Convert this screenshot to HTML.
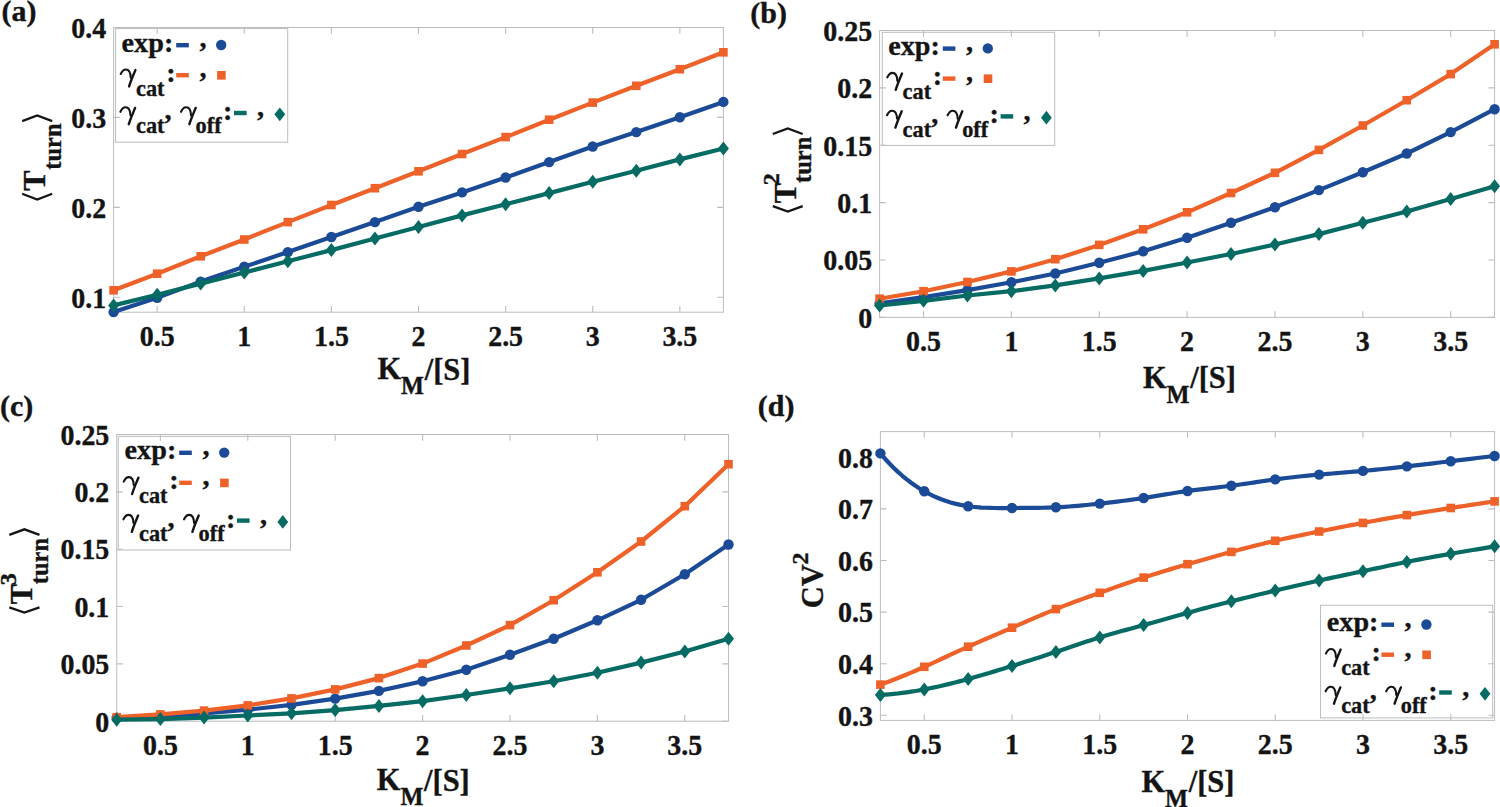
<!DOCTYPE html>
<html><head><meta charset="utf-8"><title>Figure</title>
<style>
html,body{margin:0;padding:0;background:#fff;}
body{width:1500px;height:807px;overflow:hidden;}
svg{display:block;font-family:"Liberation Serif",serif;}
text{stroke:#141414;stroke-width:0.35px;}
</style></head>
<body>
<svg width="1500" height="807" viewBox="0 0 1500 807">
<rect width="1500" height="807" fill="#fff"/>
<rect x="113.6" y="27.5" width="609.8" height="284.7" fill="none" stroke="#BBBDBF" stroke-width="1"/>
<path d="M157.16 312.2V306M157.16 27.5V33.7M244.27 312.2V306M244.27 27.5V33.7M331.39 312.2V306M331.39 27.5V33.7M418.5 312.2V306M418.5 27.5V33.7M505.61 312.2V306M505.61 27.5V33.7M592.73 312.2V306M592.73 27.5V33.7M679.84 312.2V306M679.84 27.5V33.7M113.6 297.3H119.8M723.4 297.3H717.2M113.6 207.4H119.8M723.4 207.4H717.2M113.6 117.4H119.8M723.4 117.4H717.2M113.6 27.5H119.8M723.4 27.5H717.2" stroke="#BBBDBF" stroke-width="1.1" fill="none"/>
<rect x="879.6" y="30.5" width="615" height="286.9" fill="none" stroke="#BBBDBF" stroke-width="1"/>
<path d="M923.53 317.4V311.2M923.53 30.5V36.7M1011.39 317.4V311.2M1011.39 30.5V36.7M1099.24 317.4V311.2M1099.24 30.5V36.7M1187.1 317.4V311.2M1187.1 30.5V36.7M1274.96 317.4V311.2M1274.96 30.5V36.7M1362.81 317.4V311.2M1362.81 30.5V36.7M1450.67 317.4V311.2M1450.67 30.5V36.7M879.6 317.4H885.8M1494.6 317.4H1488.4M879.6 260.02H885.8M1494.6 260.02H1488.4M879.6 202.64H885.8M1494.6 202.64H1488.4M879.6 145.26H885.8M1494.6 145.26H1488.4M879.6 87.88H885.8M1494.6 87.88H1488.4M879.6 30.5H885.8M1494.6 30.5H1488.4" stroke="#BBBDBF" stroke-width="1.1" fill="none"/>
<rect x="116.7" y="434.5" width="611.8" height="286.7" fill="none" stroke="#BBBDBF" stroke-width="1"/>
<path d="M160.4 721.2V715M160.4 434.5V440.7M247.8 721.2V715M247.8 434.5V440.7M335.2 721.2V715M335.2 434.5V440.7M422.6 721.2V715M422.6 434.5V440.7M510 721.2V715M510 434.5V440.7M597.4 721.2V715M597.4 434.5V440.7M684.8 721.2V715M684.8 434.5V440.7M116.7 721.2H122.9M728.5 721.2H722.3M116.7 663.86H122.9M728.5 663.86H722.3M116.7 606.52H122.9M728.5 606.52H722.3M116.7 549.18H122.9M728.5 549.18H722.3M116.7 491.84H122.9M728.5 491.84H722.3M116.7 434.5H122.9M728.5 434.5H722.3" stroke="#BBBDBF" stroke-width="1.1" fill="none"/>
<rect x="880.4" y="431.6" width="614.2" height="288.8" fill="none" stroke="#BBBDBF" stroke-width="1"/>
<path d="M924.27 720.4V714.2M924.27 431.6V437.8M1012.01 720.4V714.2M1012.01 431.6V437.8M1099.76 720.4V714.2M1099.76 431.6V437.8M1187.5 720.4V714.2M1187.5 431.6V437.8M1275.24 720.4V714.2M1275.24 431.6V437.8M1362.99 720.4V714.2M1362.99 431.6V437.8M1450.73 720.4V714.2M1450.73 431.6V437.8M880.4 715.3H886.6M1494.6 715.3H1488.4M880.4 663.7H886.6M1494.6 663.7H1488.4M880.4 612.1H886.6M1494.6 612.1H1488.4M880.4 560.5H886.6M1494.6 560.5H1488.4M880.4 508.9H886.6M1494.6 508.9H1488.4M880.4 457.3H886.6M1494.6 457.3H1488.4" stroke="#BBBDBF" stroke-width="1.1" fill="none"/>
<path d="M113.6 312.1 L157.16 297.7 L200.71 281.6 L244.27 266.8 L287.83 252.1 L331.39 237 L374.94 222.1 L418.5 206.8 L462.06 192.4 L505.61 177.5 L549.17 162.1 L592.73 146.5 L636.29 132.1 L679.84 117.3 L723.4 101.9" stroke="#1B4A96" stroke-width="4.2" fill="none" stroke-linejoin="round"/>
<circle cx="113.6" cy="312.1" r="5.2" fill="#1B4A96"/>
<circle cx="157.16" cy="297.7" r="5.2" fill="#1B4A96"/>
<circle cx="200.71" cy="281.6" r="5.2" fill="#1B4A96"/>
<circle cx="244.27" cy="266.8" r="5.2" fill="#1B4A96"/>
<circle cx="287.83" cy="252.1" r="5.2" fill="#1B4A96"/>
<circle cx="331.39" cy="237" r="5.2" fill="#1B4A96"/>
<circle cx="374.94" cy="222.1" r="5.2" fill="#1B4A96"/>
<circle cx="418.5" cy="206.8" r="5.2" fill="#1B4A96"/>
<circle cx="462.06" cy="192.4" r="5.2" fill="#1B4A96"/>
<circle cx="505.61" cy="177.5" r="5.2" fill="#1B4A96"/>
<circle cx="549.17" cy="162.1" r="5.2" fill="#1B4A96"/>
<circle cx="592.73" cy="146.5" r="5.2" fill="#1B4A96"/>
<circle cx="636.29" cy="132.1" r="5.2" fill="#1B4A96"/>
<circle cx="679.84" cy="117.3" r="5.2" fill="#1B4A96"/>
<circle cx="723.4" cy="101.9" r="5.2" fill="#1B4A96"/>
<path d="M113.6 290.3 L157.16 273.7 L200.71 256.3 L244.27 239.5 L287.83 222.1 L331.39 205 L374.94 188.2 L418.5 171.3 L462.06 154 L505.61 137.1 L549.17 119.7 L592.73 102.6 L636.29 85.8 L679.84 69.2 L723.4 52.3" stroke="#EE6129" stroke-width="4.2" fill="none" stroke-linejoin="round"/>
<rect x="109.3" y="286" width="8.6" height="8.6" fill="#EE6129"/>
<rect x="152.86" y="269.4" width="8.6" height="8.6" fill="#EE6129"/>
<rect x="196.41" y="252" width="8.6" height="8.6" fill="#EE6129"/>
<rect x="239.97" y="235.2" width="8.6" height="8.6" fill="#EE6129"/>
<rect x="283.53" y="217.8" width="8.6" height="8.6" fill="#EE6129"/>
<rect x="327.09" y="200.7" width="8.6" height="8.6" fill="#EE6129"/>
<rect x="370.64" y="183.9" width="8.6" height="8.6" fill="#EE6129"/>
<rect x="414.2" y="167" width="8.6" height="8.6" fill="#EE6129"/>
<rect x="457.76" y="149.7" width="8.6" height="8.6" fill="#EE6129"/>
<rect x="501.31" y="132.8" width="8.6" height="8.6" fill="#EE6129"/>
<rect x="544.87" y="115.4" width="8.6" height="8.6" fill="#EE6129"/>
<rect x="588.43" y="98.3" width="8.6" height="8.6" fill="#EE6129"/>
<rect x="631.99" y="81.5" width="8.6" height="8.6" fill="#EE6129"/>
<rect x="675.54" y="64.9" width="8.6" height="8.6" fill="#EE6129"/>
<rect x="719.1" y="48" width="8.6" height="8.6" fill="#EE6129"/>
<path d="M113.6 305.4 L157.16 294.8 L200.71 283.6 L244.27 272.5 L287.83 261.3 L331.39 250.1 L374.94 238.5 L418.5 227 L462.06 215.4 L505.61 204.3 L549.17 193.1 L592.73 181.7 L636.29 170.8 L679.84 159.4 L723.4 148.5" stroke="#066B63" stroke-width="4.2" fill="none" stroke-linejoin="round"/>
<path d="M113.6 298.4L119.1 305.4L113.6 312.4L108.1 305.4Z" fill="#066B63"/>
<path d="M157.16 287.8L162.66 294.8L157.16 301.8L151.66 294.8Z" fill="#066B63"/>
<path d="M200.71 276.6L206.21 283.6L200.71 290.6L195.21 283.6Z" fill="#066B63"/>
<path d="M244.27 265.5L249.77 272.5L244.27 279.5L238.77 272.5Z" fill="#066B63"/>
<path d="M287.83 254.3L293.33 261.3L287.83 268.3L282.33 261.3Z" fill="#066B63"/>
<path d="M331.39 243.1L336.89 250.1L331.39 257.1L325.89 250.1Z" fill="#066B63"/>
<path d="M374.94 231.5L380.44 238.5L374.94 245.5L369.44 238.5Z" fill="#066B63"/>
<path d="M418.5 220L424 227L418.5 234L413 227Z" fill="#066B63"/>
<path d="M462.06 208.4L467.56 215.4L462.06 222.4L456.56 215.4Z" fill="#066B63"/>
<path d="M505.61 197.3L511.11 204.3L505.61 211.3L500.11 204.3Z" fill="#066B63"/>
<path d="M549.17 186.1L554.67 193.1L549.17 200.1L543.67 193.1Z" fill="#066B63"/>
<path d="M592.73 174.7L598.23 181.7L592.73 188.7L587.23 181.7Z" fill="#066B63"/>
<path d="M636.29 163.8L641.79 170.8L636.29 177.8L630.79 170.8Z" fill="#066B63"/>
<path d="M679.84 152.4L685.34 159.4L679.84 166.4L674.34 159.4Z" fill="#066B63"/>
<path d="M723.4 141.5L728.9 148.5L723.4 155.5L717.9 148.5Z" fill="#066B63"/>
<text transform="translate(157.16 346) scale(0.98 1.05)" font-size="28.5" font-weight="bold" text-anchor="middle" fill="#141414">0.5</text>
<text transform="translate(244.27 346) scale(0.98 1.05)" font-size="28.5" font-weight="bold" text-anchor="middle" fill="#141414">1</text>
<text transform="translate(331.39 346) scale(0.98 1.05)" font-size="28.5" font-weight="bold" text-anchor="middle" fill="#141414">1.5</text>
<text transform="translate(418.5 346) scale(0.98 1.05)" font-size="28.5" font-weight="bold" text-anchor="middle" fill="#141414">2</text>
<text transform="translate(505.61 346) scale(0.98 1.05)" font-size="28.5" font-weight="bold" text-anchor="middle" fill="#141414">2.5</text>
<text transform="translate(592.73 346) scale(0.98 1.05)" font-size="28.5" font-weight="bold" text-anchor="middle" fill="#141414">3</text>
<text transform="translate(679.84 346) scale(0.98 1.05)" font-size="28.5" font-weight="bold" text-anchor="middle" fill="#141414">3.5</text>
<text transform="translate(106.2 307.6) scale(0.98 1.05)" font-size="28.5" font-weight="bold" text-anchor="end" fill="#141414">0.1</text>
<text transform="translate(106.2 217.7) scale(0.98 1.05)" font-size="28.5" font-weight="bold" text-anchor="end" fill="#141414">0.2</text>
<text transform="translate(106.2 127.7) scale(0.98 1.05)" font-size="28.5" font-weight="bold" text-anchor="end" fill="#141414">0.3</text>
<text transform="translate(106.2 37.8) scale(0.98 1.05)" font-size="28.5" font-weight="bold" text-anchor="end" fill="#141414">0.4</text>
<path d="M879.6 303.4 L923.53 297.2 L967.46 290.1 L1011.39 282.2 L1055.31 273.5 L1099.24 262.8 L1143.17 251.3 L1187.1 237.8 L1231.03 222.8 L1274.96 207.3 L1318.89 190.1 L1362.81 172.2 L1406.74 153.5 L1450.67 132.1 L1494.6 109.2" stroke="#1B4A96" stroke-width="4.2" fill="none" stroke-linejoin="round"/>
<circle cx="879.6" cy="303.4" r="5.2" fill="#1B4A96"/>
<circle cx="923.53" cy="297.2" r="5.2" fill="#1B4A96"/>
<circle cx="967.46" cy="290.1" r="5.2" fill="#1B4A96"/>
<circle cx="1011.39" cy="282.2" r="5.2" fill="#1B4A96"/>
<circle cx="1055.31" cy="273.5" r="5.2" fill="#1B4A96"/>
<circle cx="1099.24" cy="262.8" r="5.2" fill="#1B4A96"/>
<circle cx="1143.17" cy="251.3" r="5.2" fill="#1B4A96"/>
<circle cx="1187.1" cy="237.8" r="5.2" fill="#1B4A96"/>
<circle cx="1231.03" cy="222.8" r="5.2" fill="#1B4A96"/>
<circle cx="1274.96" cy="207.3" r="5.2" fill="#1B4A96"/>
<circle cx="1318.89" cy="190.1" r="5.2" fill="#1B4A96"/>
<circle cx="1362.81" cy="172.2" r="5.2" fill="#1B4A96"/>
<circle cx="1406.74" cy="153.5" r="5.2" fill="#1B4A96"/>
<circle cx="1450.67" cy="132.1" r="5.2" fill="#1B4A96"/>
<circle cx="1494.6" cy="109.2" r="5.2" fill="#1B4A96"/>
<path d="M879.6 298.7 L923.53 291.2 L967.46 282 L1011.39 271.4 L1055.31 259.2 L1099.24 244.9 L1143.17 229.3 L1187.1 212.3 L1231.03 193 L1274.96 172.8 L1318.89 149.9 L1362.81 125.5 L1406.74 100.2 L1450.67 74.1 L1494.6 44.3" stroke="#EE6129" stroke-width="4.2" fill="none" stroke-linejoin="round"/>
<rect x="875.3" y="294.4" width="8.6" height="8.6" fill="#EE6129"/>
<rect x="919.23" y="286.9" width="8.6" height="8.6" fill="#EE6129"/>
<rect x="963.16" y="277.7" width="8.6" height="8.6" fill="#EE6129"/>
<rect x="1007.09" y="267.1" width="8.6" height="8.6" fill="#EE6129"/>
<rect x="1051.01" y="254.9" width="8.6" height="8.6" fill="#EE6129"/>
<rect x="1094.94" y="240.6" width="8.6" height="8.6" fill="#EE6129"/>
<rect x="1138.87" y="225" width="8.6" height="8.6" fill="#EE6129"/>
<rect x="1182.8" y="208" width="8.6" height="8.6" fill="#EE6129"/>
<rect x="1226.73" y="188.7" width="8.6" height="8.6" fill="#EE6129"/>
<rect x="1270.66" y="168.5" width="8.6" height="8.6" fill="#EE6129"/>
<rect x="1314.59" y="145.6" width="8.6" height="8.6" fill="#EE6129"/>
<rect x="1358.51" y="121.2" width="8.6" height="8.6" fill="#EE6129"/>
<rect x="1402.44" y="95.9" width="8.6" height="8.6" fill="#EE6129"/>
<rect x="1446.37" y="69.8" width="8.6" height="8.6" fill="#EE6129"/>
<rect x="1490.3" y="40" width="8.6" height="8.6" fill="#EE6129"/>
<path d="M879.6 305.5 L923.53 300.8 L967.46 295.5 L1011.39 291.2 L1055.31 285.4 L1099.24 278.4 L1143.17 270.9 L1187.1 262.5 L1231.03 254 L1274.96 244.5 L1318.89 234.1 L1362.81 222.8 L1406.74 211.5 L1450.67 199 L1494.6 186.2" stroke="#066B63" stroke-width="4.2" fill="none" stroke-linejoin="round"/>
<path d="M879.6 298.5L885.1 305.5L879.6 312.5L874.1 305.5Z" fill="#066B63"/>
<path d="M923.53 293.8L929.03 300.8L923.53 307.8L918.03 300.8Z" fill="#066B63"/>
<path d="M967.46 288.5L972.96 295.5L967.46 302.5L961.96 295.5Z" fill="#066B63"/>
<path d="M1011.39 284.2L1016.89 291.2L1011.39 298.2L1005.89 291.2Z" fill="#066B63"/>
<path d="M1055.31 278.4L1060.81 285.4L1055.31 292.4L1049.81 285.4Z" fill="#066B63"/>
<path d="M1099.24 271.4L1104.74 278.4L1099.24 285.4L1093.74 278.4Z" fill="#066B63"/>
<path d="M1143.17 263.9L1148.67 270.9L1143.17 277.9L1137.67 270.9Z" fill="#066B63"/>
<path d="M1187.1 255.5L1192.6 262.5L1187.1 269.5L1181.6 262.5Z" fill="#066B63"/>
<path d="M1231.03 247L1236.53 254L1231.03 261L1225.53 254Z" fill="#066B63"/>
<path d="M1274.96 237.5L1280.46 244.5L1274.96 251.5L1269.46 244.5Z" fill="#066B63"/>
<path d="M1318.89 227.1L1324.39 234.1L1318.89 241.1L1313.39 234.1Z" fill="#066B63"/>
<path d="M1362.81 215.8L1368.31 222.8L1362.81 229.8L1357.31 222.8Z" fill="#066B63"/>
<path d="M1406.74 204.5L1412.24 211.5L1406.74 218.5L1401.24 211.5Z" fill="#066B63"/>
<path d="M1450.67 192L1456.17 199L1450.67 206L1445.17 199Z" fill="#066B63"/>
<path d="M1494.6 179.2L1500.1 186.2L1494.6 193.2L1489.1 186.2Z" fill="#066B63"/>
<text transform="translate(923.53 351.2) scale(0.98 1.05)" font-size="28.5" font-weight="bold" text-anchor="middle" fill="#141414">0.5</text>
<text transform="translate(1011.39 351.2) scale(0.98 1.05)" font-size="28.5" font-weight="bold" text-anchor="middle" fill="#141414">1</text>
<text transform="translate(1099.24 351.2) scale(0.98 1.05)" font-size="28.5" font-weight="bold" text-anchor="middle" fill="#141414">1.5</text>
<text transform="translate(1187.1 351.2) scale(0.98 1.05)" font-size="28.5" font-weight="bold" text-anchor="middle" fill="#141414">2</text>
<text transform="translate(1274.96 351.2) scale(0.98 1.05)" font-size="28.5" font-weight="bold" text-anchor="middle" fill="#141414">2.5</text>
<text transform="translate(1362.81 351.2) scale(0.98 1.05)" font-size="28.5" font-weight="bold" text-anchor="middle" fill="#141414">3</text>
<text transform="translate(1450.67 351.2) scale(0.98 1.05)" font-size="28.5" font-weight="bold" text-anchor="middle" fill="#141414">3.5</text>
<text transform="translate(872.2 327.7) scale(0.98 1.05)" font-size="28.5" font-weight="bold" text-anchor="end" fill="#141414">0</text>
<text transform="translate(872.2 270.32) scale(0.98 1.05)" font-size="28.5" font-weight="bold" text-anchor="end" fill="#141414">0.05</text>
<text transform="translate(872.2 212.94) scale(0.98 1.05)" font-size="28.5" font-weight="bold" text-anchor="end" fill="#141414">0.1</text>
<text transform="translate(872.2 155.56) scale(0.98 1.05)" font-size="28.5" font-weight="bold" text-anchor="end" fill="#141414">0.15</text>
<text transform="translate(872.2 98.18) scale(0.98 1.05)" font-size="28.5" font-weight="bold" text-anchor="end" fill="#141414">0.2</text>
<text transform="translate(872.2 40.8) scale(0.98 1.05)" font-size="28.5" font-weight="bold" text-anchor="end" fill="#141414">0.25</text>
<path d="M116.7 717.6 L160.4 716.1 L204.1 713.3 L247.8 709.7 L291.5 704.8 L335.2 698.6 L378.9 690.9 L422.6 681.2 L466.3 669.7 L510 654.8 L553.7 638.8 L597.4 620.3 L641.1 599.8 L684.8 574.2 L728.5 544.5" stroke="#1B4A96" stroke-width="4.2" fill="none" stroke-linejoin="round"/>
<circle cx="116.7" cy="717.6" r="5.2" fill="#1B4A96"/>
<circle cx="160.4" cy="716.1" r="5.2" fill="#1B4A96"/>
<circle cx="204.1" cy="713.3" r="5.2" fill="#1B4A96"/>
<circle cx="247.8" cy="709.7" r="5.2" fill="#1B4A96"/>
<circle cx="291.5" cy="704.8" r="5.2" fill="#1B4A96"/>
<circle cx="335.2" cy="698.6" r="5.2" fill="#1B4A96"/>
<circle cx="378.9" cy="690.9" r="5.2" fill="#1B4A96"/>
<circle cx="422.6" cy="681.2" r="5.2" fill="#1B4A96"/>
<circle cx="466.3" cy="669.7" r="5.2" fill="#1B4A96"/>
<circle cx="510" cy="654.8" r="5.2" fill="#1B4A96"/>
<circle cx="553.7" cy="638.8" r="5.2" fill="#1B4A96"/>
<circle cx="597.4" cy="620.3" r="5.2" fill="#1B4A96"/>
<circle cx="641.1" cy="599.8" r="5.2" fill="#1B4A96"/>
<circle cx="684.8" cy="574.2" r="5.2" fill="#1B4A96"/>
<circle cx="728.5" cy="544.5" r="5.2" fill="#1B4A96"/>
<path d="M116.7 717.2 L160.4 714.4 L204.1 710.6 L247.8 705.4 L291.5 698.4 L335.2 689.4 L378.9 678.1 L422.6 663.6 L466.3 645.5 L510 625.1 L553.7 600.2 L597.4 572.3 L641.1 541.5 L684.8 506.2 L728.5 464.2" stroke="#EE6129" stroke-width="4.2" fill="none" stroke-linejoin="round"/>
<rect x="112.4" y="712.9" width="8.6" height="8.6" fill="#EE6129"/>
<rect x="156.1" y="710.1" width="8.6" height="8.6" fill="#EE6129"/>
<rect x="199.8" y="706.3" width="8.6" height="8.6" fill="#EE6129"/>
<rect x="243.5" y="701.1" width="8.6" height="8.6" fill="#EE6129"/>
<rect x="287.2" y="694.1" width="8.6" height="8.6" fill="#EE6129"/>
<rect x="330.9" y="685.1" width="8.6" height="8.6" fill="#EE6129"/>
<rect x="374.6" y="673.8" width="8.6" height="8.6" fill="#EE6129"/>
<rect x="418.3" y="659.3" width="8.6" height="8.6" fill="#EE6129"/>
<rect x="462" y="641.2" width="8.6" height="8.6" fill="#EE6129"/>
<rect x="505.7" y="620.8" width="8.6" height="8.6" fill="#EE6129"/>
<rect x="549.4" y="595.9" width="8.6" height="8.6" fill="#EE6129"/>
<rect x="593.1" y="568" width="8.6" height="8.6" fill="#EE6129"/>
<rect x="636.8" y="537.2" width="8.6" height="8.6" fill="#EE6129"/>
<rect x="680.5" y="501.9" width="8.6" height="8.6" fill="#EE6129"/>
<rect x="724.2" y="459.9" width="8.6" height="8.6" fill="#EE6129"/>
<path d="M116.7 719.7 L160.4 719.1 L204.1 717.6 L247.8 715.5 L291.5 713.3 L335.2 710.1 L378.9 705.9 L422.6 701.2 L466.3 695 L510 688.3 L553.7 681.2 L597.4 672.7 L641.1 662.6 L684.8 651.5 L728.5 638.8" stroke="#066B63" stroke-width="4.2" fill="none" stroke-linejoin="round"/>
<path d="M116.7 712.7L122.2 719.7L116.7 726.7L111.2 719.7Z" fill="#066B63"/>
<path d="M160.4 712.1L165.9 719.1L160.4 726.1L154.9 719.1Z" fill="#066B63"/>
<path d="M204.1 710.6L209.6 717.6L204.1 724.6L198.6 717.6Z" fill="#066B63"/>
<path d="M247.8 708.5L253.3 715.5L247.8 722.5L242.3 715.5Z" fill="#066B63"/>
<path d="M291.5 706.3L297 713.3L291.5 720.3L286 713.3Z" fill="#066B63"/>
<path d="M335.2 703.1L340.7 710.1L335.2 717.1L329.7 710.1Z" fill="#066B63"/>
<path d="M378.9 698.9L384.4 705.9L378.9 712.9L373.4 705.9Z" fill="#066B63"/>
<path d="M422.6 694.2L428.1 701.2L422.6 708.2L417.1 701.2Z" fill="#066B63"/>
<path d="M466.3 688L471.8 695L466.3 702L460.8 695Z" fill="#066B63"/>
<path d="M510 681.3L515.5 688.3L510 695.3L504.5 688.3Z" fill="#066B63"/>
<path d="M553.7 674.2L559.2 681.2L553.7 688.2L548.2 681.2Z" fill="#066B63"/>
<path d="M597.4 665.7L602.9 672.7L597.4 679.7L591.9 672.7Z" fill="#066B63"/>
<path d="M641.1 655.6L646.6 662.6L641.1 669.6L635.6 662.6Z" fill="#066B63"/>
<path d="M684.8 644.5L690.3 651.5L684.8 658.5L679.3 651.5Z" fill="#066B63"/>
<path d="M728.5 631.8L734 638.8L728.5 645.8L723 638.8Z" fill="#066B63"/>
<text transform="translate(160.4 755) scale(0.98 1.05)" font-size="28.5" font-weight="bold" text-anchor="middle" fill="#141414">0.5</text>
<text transform="translate(247.8 755) scale(0.98 1.05)" font-size="28.5" font-weight="bold" text-anchor="middle" fill="#141414">1</text>
<text transform="translate(335.2 755) scale(0.98 1.05)" font-size="28.5" font-weight="bold" text-anchor="middle" fill="#141414">1.5</text>
<text transform="translate(422.6 755) scale(0.98 1.05)" font-size="28.5" font-weight="bold" text-anchor="middle" fill="#141414">2</text>
<text transform="translate(510 755) scale(0.98 1.05)" font-size="28.5" font-weight="bold" text-anchor="middle" fill="#141414">2.5</text>
<text transform="translate(597.4 755) scale(0.98 1.05)" font-size="28.5" font-weight="bold" text-anchor="middle" fill="#141414">3</text>
<text transform="translate(684.8 755) scale(0.98 1.05)" font-size="28.5" font-weight="bold" text-anchor="middle" fill="#141414">3.5</text>
<text transform="translate(109.3 731.5) scale(0.98 1.05)" font-size="28.5" font-weight="bold" text-anchor="end" fill="#141414">0</text>
<text transform="translate(109.3 674.16) scale(0.98 1.05)" font-size="28.5" font-weight="bold" text-anchor="end" fill="#141414">0.05</text>
<text transform="translate(109.3 616.82) scale(0.98 1.05)" font-size="28.5" font-weight="bold" text-anchor="end" fill="#141414">0.1</text>
<text transform="translate(109.3 559.48) scale(0.98 1.05)" font-size="28.5" font-weight="bold" text-anchor="end" fill="#141414">0.15</text>
<text transform="translate(109.3 502.14) scale(0.98 1.05)" font-size="28.5" font-weight="bold" text-anchor="end" fill="#141414">0.2</text>
<text transform="translate(109.3 444.8) scale(0.98 1.05)" font-size="28.5" font-weight="bold" text-anchor="end" fill="#141414">0.25</text>
<path d="M880.4 453.4 L884.79 458.48 L889.17 463.25 L893.56 467.71 L897.95 471.89 L902.34 475.78 L906.72 479.4 L911.11 482.75 L915.5 485.84 L919.88 488.69 L924.27 491.3 L928.66 493.68 L933.05 495.84 L937.43 497.78 L941.82 499.52 L946.21 501.07 L950.59 502.43 L954.98 503.62 L959.37 504.63 L963.76 505.49 L968.14 506.2 L972.53 506.77 L976.92 507.21 L981.3 507.54 L985.69 507.77 L990.08 507.93 L994.47 508.01 L998.85 508.05 L1003.24 508.05 L1007.63 508.03 L1012.01 508 L1016.4 507.98 L1020.79 507.96 L1025.18 507.94 L1029.56 507.91 L1033.95 507.87 L1038.34 507.82 L1042.72 507.74 L1047.11 507.63 L1051.5 507.48 L1055.89 507.3 L1060.27 507.07 L1064.66 506.81 L1069.05 506.5 L1073.43 506.16 L1077.82 505.79 L1082.21 505.4 L1086.6 504.97 L1090.98 504.53 L1095.37 504.07 L1099.76 503.6 L1104.14 503.12 L1108.53 502.62 L1112.92 502.11 L1117.31 501.59 L1121.69 501.04 L1126.08 500.48 L1130.47 499.9 L1134.85 499.29 L1139.24 498.66 L1143.63 498 L1148.02 497.31 L1152.4 496.61 L1156.79 495.89 L1161.18 495.16 L1165.56 494.42 L1169.95 493.7 L1174.34 492.99 L1178.73 492.3 L1183.11 491.63 L1187.5 491 L1191.89 490.41 L1196.27 489.85 L1200.66 489.31 L1205.05 488.8 L1209.44 488.3 L1213.82 487.8 L1218.21 487.3 L1222.6 486.78 L1226.98 486.25 L1231.37 485.7 L1235.76 485.12 L1240.15 484.51 L1244.53 483.88 L1248.92 483.23 L1253.31 482.58 L1257.69 481.92 L1262.08 481.27 L1266.47 480.63 L1270.86 480.01 L1275.24 479.4 L1279.63 478.82 L1284.02 478.27 L1288.4 477.74 L1292.79 477.23 L1297.18 476.75 L1301.57 476.28 L1305.95 475.84 L1310.34 475.41 L1314.73 475 L1319.11 474.6 L1323.5 474.22 L1327.89 473.84 L1332.28 473.47 L1336.66 473.11 L1341.05 472.75 L1345.44 472.39 L1349.82 472.03 L1354.21 471.66 L1358.6 471.29 L1362.99 470.9 L1367.37 470.5 L1371.76 470.09 L1376.15 469.66 L1380.53 469.23 L1384.92 468.78 L1389.31 468.32 L1393.7 467.85 L1398.08 467.38 L1402.47 466.89 L1406.86 466.4 L1411.24 465.9 L1415.63 465.39 L1420.02 464.88 L1424.41 464.37 L1428.79 463.84 L1433.18 463.32 L1437.57 462.79 L1441.95 462.26 L1446.34 461.73 L1450.73 461.2 L1455.12 460.67 L1459.5 460.14 L1463.89 459.61 L1468.28 459.08 L1472.66 458.56 L1477.05 458.03 L1481.44 457.52 L1485.83 457.01 L1490.21 456.5 L1494.6 456" stroke="#1B4A96" stroke-width="4.2" fill="none" stroke-linejoin="round"/>
<circle cx="880.4" cy="453.4" r="5.2" fill="#1B4A96"/>
<circle cx="924.27" cy="491.3" r="5.2" fill="#1B4A96"/>
<circle cx="968.14" cy="506.2" r="5.2" fill="#1B4A96"/>
<circle cx="1012.01" cy="508" r="5.2" fill="#1B4A96"/>
<circle cx="1055.89" cy="507.3" r="5.2" fill="#1B4A96"/>
<circle cx="1099.76" cy="503.6" r="5.2" fill="#1B4A96"/>
<circle cx="1143.63" cy="498" r="5.2" fill="#1B4A96"/>
<circle cx="1187.5" cy="491" r="5.2" fill="#1B4A96"/>
<circle cx="1231.37" cy="485.7" r="5.2" fill="#1B4A96"/>
<circle cx="1275.24" cy="479.4" r="5.2" fill="#1B4A96"/>
<circle cx="1319.11" cy="474.6" r="5.2" fill="#1B4A96"/>
<circle cx="1362.99" cy="470.9" r="5.2" fill="#1B4A96"/>
<circle cx="1406.86" cy="466.4" r="5.2" fill="#1B4A96"/>
<circle cx="1450.73" cy="461.2" r="5.2" fill="#1B4A96"/>
<circle cx="1494.6" cy="456" r="5.2" fill="#1B4A96"/>
<path d="M880.4 684.6 L884.79 683.06 L889.17 681.45 L893.56 679.78 L897.95 678.06 L902.34 676.28 L906.72 674.46 L911.11 672.6 L915.5 670.7 L919.88 668.76 L924.27 666.8 L928.66 664.82 L933.05 662.81 L937.43 660.8 L941.82 658.77 L946.21 656.74 L950.59 654.71 L954.98 652.69 L959.37 650.68 L963.76 648.68 L968.14 646.7 L972.53 644.75 L976.92 642.81 L981.3 640.9 L985.69 638.99 L990.08 637.1 L994.47 635.22 L998.85 633.34 L1003.24 631.47 L1007.63 629.59 L1012.01 627.7 L1016.4 625.81 L1020.79 623.91 L1025.18 622.01 L1029.56 620.11 L1033.95 618.23 L1038.34 616.36 L1042.72 614.5 L1047.11 612.67 L1051.5 610.87 L1055.89 609.1 L1060.27 607.36 L1064.66 605.66 L1069.05 603.99 L1073.43 602.34 L1077.82 600.71 L1082.21 599.11 L1086.6 597.52 L1090.98 595.94 L1095.37 594.37 L1099.76 592.8 L1104.14 591.24 L1108.53 589.68 L1112.92 588.12 L1117.31 586.57 L1121.69 585.04 L1126.08 583.51 L1130.47 582.01 L1134.85 580.52 L1139.24 579.05 L1143.63 577.6 L1148.02 576.18 L1152.4 574.78 L1156.79 573.4 L1161.18 572.04 L1165.56 570.7 L1169.95 569.37 L1174.34 568.06 L1178.73 566.76 L1183.11 565.48 L1187.5 564.2 L1191.89 562.93 L1196.27 561.67 L1200.66 560.42 L1205.05 559.17 L1209.44 557.94 L1213.82 556.71 L1218.21 555.49 L1222.6 554.29 L1226.98 553.09 L1231.37 551.9 L1235.76 550.72 L1240.15 549.56 L1244.53 548.4 L1248.92 547.26 L1253.31 546.14 L1257.69 545.03 L1262.08 543.94 L1266.47 542.87 L1270.86 541.83 L1275.24 540.8 L1279.63 539.8 L1284.02 538.82 L1288.4 537.86 L1292.79 536.92 L1297.18 535.99 L1301.57 535.07 L1305.95 534.17 L1310.34 533.27 L1314.73 532.38 L1319.11 531.5 L1323.5 530.62 L1327.89 529.74 L1332.28 528.86 L1336.66 527.99 L1341.05 527.13 L1345.44 526.27 L1349.82 525.41 L1354.21 524.57 L1358.6 523.73 L1362.99 522.9 L1367.37 522.08 L1371.76 521.27 L1376.15 520.47 L1380.53 519.68 L1384.92 518.9 L1389.31 518.12 L1393.7 517.36 L1398.08 516.6 L1402.47 515.84 L1406.86 515.1 L1411.24 514.36 L1415.63 513.63 L1420.02 512.91 L1424.41 512.19 L1428.79 511.48 L1433.18 510.77 L1437.57 510.07 L1441.95 509.37 L1446.34 508.68 L1450.73 508 L1455.12 507.32 L1459.5 506.65 L1463.89 505.98 L1468.28 505.31 L1472.66 504.65 L1477.05 503.99 L1481.44 503.34 L1485.83 502.69 L1490.21 502.04 L1494.6 501.4" stroke="#EE6129" stroke-width="4.2" fill="none" stroke-linejoin="round"/>
<rect x="876.1" y="680.3" width="8.6" height="8.6" fill="#EE6129"/>
<rect x="919.97" y="662.5" width="8.6" height="8.6" fill="#EE6129"/>
<rect x="963.84" y="642.4" width="8.6" height="8.6" fill="#EE6129"/>
<rect x="1007.71" y="623.4" width="8.6" height="8.6" fill="#EE6129"/>
<rect x="1051.59" y="604.8" width="8.6" height="8.6" fill="#EE6129"/>
<rect x="1095.46" y="588.5" width="8.6" height="8.6" fill="#EE6129"/>
<rect x="1139.33" y="573.3" width="8.6" height="8.6" fill="#EE6129"/>
<rect x="1183.2" y="559.9" width="8.6" height="8.6" fill="#EE6129"/>
<rect x="1227.07" y="547.6" width="8.6" height="8.6" fill="#EE6129"/>
<rect x="1270.94" y="536.5" width="8.6" height="8.6" fill="#EE6129"/>
<rect x="1314.81" y="527.2" width="8.6" height="8.6" fill="#EE6129"/>
<rect x="1358.69" y="518.6" width="8.6" height="8.6" fill="#EE6129"/>
<rect x="1402.56" y="510.8" width="8.6" height="8.6" fill="#EE6129"/>
<rect x="1446.43" y="503.7" width="8.6" height="8.6" fill="#EE6129"/>
<rect x="1490.3" y="497.1" width="8.6" height="8.6" fill="#EE6129"/>
<path d="M880.4 695 L884.79 694.72 L889.17 694.37 L893.56 693.96 L897.95 693.48 L902.34 692.94 L906.72 692.34 L911.11 691.69 L915.5 690.98 L919.88 690.21 L924.27 689.4 L928.66 688.54 L933.05 687.63 L937.43 686.68 L941.82 685.69 L946.21 684.66 L950.59 683.59 L954.98 682.49 L959.37 681.36 L963.76 680.19 L968.14 679 L972.53 677.78 L976.92 676.54 L981.3 675.28 L985.69 674 L990.08 672.7 L994.47 671.38 L998.85 670.05 L1003.24 668.71 L1007.63 667.36 L1012.01 666 L1016.4 664.63 L1020.79 663.26 L1025.18 661.87 L1029.56 660.48 L1033.95 659.08 L1038.34 657.67 L1042.72 656.24 L1047.11 654.81 L1051.5 653.36 L1055.89 651.9 L1060.27 650.43 L1064.66 648.94 L1069.05 647.46 L1073.43 645.97 L1077.82 644.49 L1082.21 643.03 L1086.6 641.58 L1090.98 640.16 L1095.37 638.76 L1099.76 637.4 L1104.14 636.08 L1108.53 634.79 L1112.92 633.52 L1117.31 632.29 L1121.69 631.07 L1126.08 629.87 L1130.47 628.67 L1134.85 627.49 L1139.24 626.3 L1143.63 625.1 L1148.02 623.9 L1152.4 622.68 L1156.79 621.46 L1161.18 620.24 L1165.56 619.01 L1169.95 617.78 L1174.34 616.55 L1178.73 615.33 L1183.11 614.11 L1187.5 612.9 L1191.89 611.7 L1196.27 610.5 L1200.66 609.32 L1205.05 608.14 L1209.44 606.98 L1213.82 605.82 L1218.21 604.68 L1222.6 603.54 L1226.98 602.42 L1231.37 601.3 L1235.76 600.2 L1240.15 599.1 L1244.53 598.01 L1248.92 596.94 L1253.31 595.87 L1257.69 594.8 L1262.08 593.74 L1266.47 592.69 L1270.86 591.64 L1275.24 590.6 L1279.63 589.56 L1284.02 588.52 L1288.4 587.49 L1292.79 586.47 L1297.18 585.45 L1301.57 584.44 L1305.95 583.44 L1310.34 582.45 L1314.73 581.47 L1319.11 580.5 L1323.5 579.55 L1327.89 578.6 L1332.28 577.67 L1336.66 576.74 L1341.05 575.82 L1345.44 574.9 L1349.82 573.98 L1354.21 573.06 L1358.6 572.13 L1362.99 571.2 L1367.37 570.26 L1371.76 569.32 L1376.15 568.37 L1380.53 567.43 L1384.92 566.48 L1389.31 565.55 L1393.7 564.62 L1398.08 563.7 L1402.47 562.79 L1406.86 561.9 L1411.24 561.03 L1415.63 560.17 L1420.02 559.33 L1424.41 558.51 L1428.79 557.7 L1433.18 556.9 L1437.57 556.11 L1441.95 555.33 L1446.34 554.56 L1450.73 553.8 L1455.12 553.04 L1459.5 552.29 L1463.89 551.54 L1468.28 550.8 L1472.66 550.05 L1477.05 549.31 L1481.44 548.56 L1485.83 547.81 L1490.21 547.06 L1494.6 546.3" stroke="#066B63" stroke-width="4.2" fill="none" stroke-linejoin="round"/>
<path d="M880.4 688L885.9 695L880.4 702L874.9 695Z" fill="#066B63"/>
<path d="M924.27 682.4L929.77 689.4L924.27 696.4L918.77 689.4Z" fill="#066B63"/>
<path d="M968.14 672L973.64 679L968.14 686L962.64 679Z" fill="#066B63"/>
<path d="M1012.01 659L1017.51 666L1012.01 673L1006.51 666Z" fill="#066B63"/>
<path d="M1055.89 644.9L1061.39 651.9L1055.89 658.9L1050.39 651.9Z" fill="#066B63"/>
<path d="M1099.76 630.4L1105.26 637.4L1099.76 644.4L1094.26 637.4Z" fill="#066B63"/>
<path d="M1143.63 618.1L1149.13 625.1L1143.63 632.1L1138.13 625.1Z" fill="#066B63"/>
<path d="M1187.5 605.9L1193 612.9L1187.5 619.9L1182 612.9Z" fill="#066B63"/>
<path d="M1231.37 594.3L1236.87 601.3L1231.37 608.3L1225.87 601.3Z" fill="#066B63"/>
<path d="M1275.24 583.6L1280.74 590.6L1275.24 597.6L1269.74 590.6Z" fill="#066B63"/>
<path d="M1319.11 573.5L1324.61 580.5L1319.11 587.5L1313.61 580.5Z" fill="#066B63"/>
<path d="M1362.99 564.2L1368.49 571.2L1362.99 578.2L1357.49 571.2Z" fill="#066B63"/>
<path d="M1406.86 554.9L1412.36 561.9L1406.86 568.9L1401.36 561.9Z" fill="#066B63"/>
<path d="M1450.73 546.8L1456.23 553.8L1450.73 560.8L1445.23 553.8Z" fill="#066B63"/>
<path d="M1494.6 539.3L1500.1 546.3L1494.6 553.3L1489.1 546.3Z" fill="#066B63"/>
<text transform="translate(924.27 754.2) scale(0.98 1.05)" font-size="28.5" font-weight="bold" text-anchor="middle" fill="#141414">0.5</text>
<text transform="translate(1012.01 754.2) scale(0.98 1.05)" font-size="28.5" font-weight="bold" text-anchor="middle" fill="#141414">1</text>
<text transform="translate(1099.76 754.2) scale(0.98 1.05)" font-size="28.5" font-weight="bold" text-anchor="middle" fill="#141414">1.5</text>
<text transform="translate(1187.5 754.2) scale(0.98 1.05)" font-size="28.5" font-weight="bold" text-anchor="middle" fill="#141414">2</text>
<text transform="translate(1275.24 754.2) scale(0.98 1.05)" font-size="28.5" font-weight="bold" text-anchor="middle" fill="#141414">2.5</text>
<text transform="translate(1362.99 754.2) scale(0.98 1.05)" font-size="28.5" font-weight="bold" text-anchor="middle" fill="#141414">3</text>
<text transform="translate(1450.73 754.2) scale(0.98 1.05)" font-size="28.5" font-weight="bold" text-anchor="middle" fill="#141414">3.5</text>
<text transform="translate(873 725.6) scale(0.98 1.05)" font-size="28.5" font-weight="bold" text-anchor="end" fill="#141414">0.3</text>
<text transform="translate(873 674) scale(0.98 1.05)" font-size="28.5" font-weight="bold" text-anchor="end" fill="#141414">0.4</text>
<text transform="translate(873 622.4) scale(0.98 1.05)" font-size="28.5" font-weight="bold" text-anchor="end" fill="#141414">0.5</text>
<text transform="translate(873 570.8) scale(0.98 1.05)" font-size="28.5" font-weight="bold" text-anchor="end" fill="#141414">0.6</text>
<text transform="translate(873 519.2) scale(0.98 1.05)" font-size="28.5" font-weight="bold" text-anchor="end" fill="#141414">0.7</text>
<text transform="translate(873 467.6) scale(0.98 1.05)" font-size="28.5" font-weight="bold" text-anchor="end" fill="#141414">0.8</text>
<rect x="115.6" y="28.6" width="172.1" height="113.6" fill="none" stroke="#BBBDBF" stroke-width="1"/>
<text x="121.6" y="51.7" font-size="28.2" font-weight="bold" font-style="normal" text-anchor="start" fill="#141414">exp:</text>
<rect x="176.2" y="43" width="12.6" height="4.4" fill="#1B4A96"/>
<text x="199.4" y="47.2" font-size="28.2" font-weight="bold" font-style="normal" text-anchor="start" fill="#141414">,</text>
<circle cx="221.2" cy="45" r="5.2" fill="#1B4A96"/>
<g transform="translate(120.2 81.6) scale(1)" fill="none" stroke="#141414" stroke-linecap="round"><path d="M0.5 -7.6C1.9 -10.7 3.7 -12.1 5.7 -12.1C8.7 -12.1 10.3 -9.6 10.6 -4.0" stroke-width="2.1"/><path d="M15.2 -11.5L12.2 -4.3C10.8 -0.8 9.6 2.6 8.9 4.8" stroke-width="2.4"/></g>
<text x="136" y="95.5" font-size="22.3" font-weight="bold" font-style="normal" text-anchor="start" fill="#141414">cat</text>
<text x="166.2" y="81.6" font-size="28.2" font-weight="bold" font-style="normal" text-anchor="start" fill="#141414">:</text>
<rect x="176.2" y="73" width="12.6" height="4.4" fill="#EE6129"/>
<text x="199.4" y="77.4" font-size="28.2" font-weight="bold" font-style="normal" text-anchor="start" fill="#141414">,</text>
<rect x="217.1" y="71" width="8.6" height="8.6" fill="#EE6129"/>
<g transform="translate(119.9 119.4) scale(1)" fill="none" stroke="#141414" stroke-linecap="round"><path d="M0.5 -7.6C1.9 -10.7 3.7 -12.1 5.7 -12.1C8.7 -12.1 10.3 -9.6 10.6 -4.0" stroke-width="2.1"/><path d="M15.2 -11.5L12.2 -4.3C10.8 -0.8 9.6 2.6 8.9 4.8" stroke-width="2.4"/></g>
<text x="136" y="133.2" font-size="22.3" font-weight="bold" font-style="normal" text-anchor="start" fill="#141414">cat</text>
<text x="164.6" y="119.4" font-size="28.2" font-weight="bold" font-style="normal" text-anchor="start" fill="#141414">,</text>
<g transform="translate(180.5 119.4) scale(1)" fill="none" stroke="#141414" stroke-linecap="round"><path d="M0.5 -7.6C1.9 -10.7 3.7 -12.1 5.7 -12.1C8.7 -12.1 10.3 -9.6 10.6 -4.0" stroke-width="2.1"/><path d="M15.2 -11.5L12.2 -4.3C10.8 -0.8 9.6 2.6 8.9 4.8" stroke-width="2.4"/></g>
<text x="195.6" y="133.2" font-size="22.3" font-weight="bold" font-style="normal" text-anchor="start" fill="#141414">off</text>
<text x="223" y="120" font-size="28.2" font-weight="bold" font-style="normal" text-anchor="start" fill="#141414">:</text>
<rect x="234" y="110.8" width="12.6" height="4.4" fill="#066B63"/>
<text x="257" y="116.2" font-size="28.2" font-weight="bold" font-style="normal" text-anchor="start" fill="#141414">,</text>
<path d="M279.8 107.44L285.19 114.3L279.8 121.16L274.41 114.3Z" fill="#066B63"/>
<rect x="882.3" y="32.3" width="172.4" height="113.1" fill="none" stroke="#BBBDBF" stroke-width="1"/>
<text x="888.2" y="55.1" font-size="28.2" font-weight="bold" font-style="normal" text-anchor="start" fill="#141414">exp:</text>
<rect x="942.8" y="46.4" width="12.6" height="4.4" fill="#1B4A96"/>
<text x="966" y="50.6" font-size="28.2" font-weight="bold" font-style="normal" text-anchor="start" fill="#141414">,</text>
<circle cx="987.8" cy="48.4" r="5.2" fill="#1B4A96"/>
<g transform="translate(886.8 85) scale(1)" fill="none" stroke="#141414" stroke-linecap="round"><path d="M0.5 -7.6C1.9 -10.7 3.7 -12.1 5.7 -12.1C8.7 -12.1 10.3 -9.6 10.6 -4.0" stroke-width="2.1"/><path d="M15.2 -11.5L12.2 -4.3C10.8 -0.8 9.6 2.6 8.9 4.8" stroke-width="2.4"/></g>
<text x="902.6" y="98.9" font-size="22.3" font-weight="bold" font-style="normal" text-anchor="start" fill="#141414">cat</text>
<text x="932.8" y="85" font-size="28.2" font-weight="bold" font-style="normal" text-anchor="start" fill="#141414">:</text>
<rect x="942.8" y="76.4" width="12.6" height="4.4" fill="#EE6129"/>
<text x="966" y="80.8" font-size="28.2" font-weight="bold" font-style="normal" text-anchor="start" fill="#141414">,</text>
<rect x="983.7" y="74.4" width="8.6" height="8.6" fill="#EE6129"/>
<g transform="translate(886.5 122.8) scale(1)" fill="none" stroke="#141414" stroke-linecap="round"><path d="M0.5 -7.6C1.9 -10.7 3.7 -12.1 5.7 -12.1C8.7 -12.1 10.3 -9.6 10.6 -4.0" stroke-width="2.1"/><path d="M15.2 -11.5L12.2 -4.3C10.8 -0.8 9.6 2.6 8.9 4.8" stroke-width="2.4"/></g>
<text x="902.6" y="136.6" font-size="22.3" font-weight="bold" font-style="normal" text-anchor="start" fill="#141414">cat</text>
<text x="931.2" y="122.8" font-size="28.2" font-weight="bold" font-style="normal" text-anchor="start" fill="#141414">,</text>
<g transform="translate(947.1 122.8) scale(1)" fill="none" stroke="#141414" stroke-linecap="round"><path d="M0.5 -7.6C1.9 -10.7 3.7 -12.1 5.7 -12.1C8.7 -12.1 10.3 -9.6 10.6 -4.0" stroke-width="2.1"/><path d="M15.2 -11.5L12.2 -4.3C10.8 -0.8 9.6 2.6 8.9 4.8" stroke-width="2.4"/></g>
<text x="962.2" y="136.6" font-size="22.3" font-weight="bold" font-style="normal" text-anchor="start" fill="#141414">off</text>
<text x="989.6" y="123.4" font-size="28.2" font-weight="bold" font-style="normal" text-anchor="start" fill="#141414">:</text>
<rect x="1000.6" y="114.2" width="12.6" height="4.4" fill="#066B63"/>
<text x="1023.6" y="119.6" font-size="28.2" font-weight="bold" font-style="normal" text-anchor="start" fill="#141414">,</text>
<path d="M1046.4 110.84L1051.79 117.7L1046.4 124.56L1041.01 117.7Z" fill="#066B63"/>
<rect x="118.3" y="436.4" width="172.2" height="113.6" fill="none" stroke="#BBBDBF" stroke-width="1"/>
<text x="124.6" y="459.3" font-size="28.2" font-weight="bold" font-style="normal" text-anchor="start" fill="#141414">exp:</text>
<rect x="179.2" y="450.6" width="12.6" height="4.4" fill="#1B4A96"/>
<text x="202.4" y="454.8" font-size="28.2" font-weight="bold" font-style="normal" text-anchor="start" fill="#141414">,</text>
<circle cx="224.2" cy="452.6" r="5.2" fill="#1B4A96"/>
<g transform="translate(123.2 489.2) scale(1)" fill="none" stroke="#141414" stroke-linecap="round"><path d="M0.5 -7.6C1.9 -10.7 3.7 -12.1 5.7 -12.1C8.7 -12.1 10.3 -9.6 10.6 -4.0" stroke-width="2.1"/><path d="M15.2 -11.5L12.2 -4.3C10.8 -0.8 9.6 2.6 8.9 4.8" stroke-width="2.4"/></g>
<text x="139" y="503.1" font-size="22.3" font-weight="bold" font-style="normal" text-anchor="start" fill="#141414">cat</text>
<text x="169.2" y="489.2" font-size="28.2" font-weight="bold" font-style="normal" text-anchor="start" fill="#141414">:</text>
<rect x="179.2" y="480.6" width="12.6" height="4.4" fill="#EE6129"/>
<text x="202.4" y="485" font-size="28.2" font-weight="bold" font-style="normal" text-anchor="start" fill="#141414">,</text>
<rect x="220.1" y="478.6" width="8.6" height="8.6" fill="#EE6129"/>
<g transform="translate(122.9 527) scale(1)" fill="none" stroke="#141414" stroke-linecap="round"><path d="M0.5 -7.6C1.9 -10.7 3.7 -12.1 5.7 -12.1C8.7 -12.1 10.3 -9.6 10.6 -4.0" stroke-width="2.1"/><path d="M15.2 -11.5L12.2 -4.3C10.8 -0.8 9.6 2.6 8.9 4.8" stroke-width="2.4"/></g>
<text x="139" y="540.8" font-size="22.3" font-weight="bold" font-style="normal" text-anchor="start" fill="#141414">cat</text>
<text x="167.6" y="527" font-size="28.2" font-weight="bold" font-style="normal" text-anchor="start" fill="#141414">,</text>
<g transform="translate(183.5 527) scale(1)" fill="none" stroke="#141414" stroke-linecap="round"><path d="M0.5 -7.6C1.9 -10.7 3.7 -12.1 5.7 -12.1C8.7 -12.1 10.3 -9.6 10.6 -4.0" stroke-width="2.1"/><path d="M15.2 -11.5L12.2 -4.3C10.8 -0.8 9.6 2.6 8.9 4.8" stroke-width="2.4"/></g>
<text x="198.6" y="540.8" font-size="22.3" font-weight="bold" font-style="normal" text-anchor="start" fill="#141414">off</text>
<text x="226" y="527.6" font-size="28.2" font-weight="bold" font-style="normal" text-anchor="start" fill="#141414">:</text>
<rect x="237" y="518.4" width="12.6" height="4.4" fill="#066B63"/>
<text x="260" y="523.8" font-size="28.2" font-weight="bold" font-style="normal" text-anchor="start" fill="#141414">,</text>
<path d="M282.8 515.04L288.19 521.9L282.8 528.76L277.41 521.9Z" fill="#066B63"/>
<rect x="1320.5" y="605.3" width="172.2" height="112.6" fill="none" stroke="#BBBDBF" stroke-width="1"/>
<text x="1326.8" y="631.2" font-size="28.2" font-weight="bold" font-style="normal" text-anchor="start" fill="#141414">exp:</text>
<rect x="1381.4" y="622.5" width="12.6" height="4.4" fill="#1B4A96"/>
<text x="1404.6" y="626.7" font-size="28.2" font-weight="bold" font-style="normal" text-anchor="start" fill="#141414">,</text>
<circle cx="1426.4" cy="624.5" r="5.2" fill="#1B4A96"/>
<g transform="translate(1325.4 661.1) scale(1)" fill="none" stroke="#141414" stroke-linecap="round"><path d="M0.5 -7.6C1.9 -10.7 3.7 -12.1 5.7 -12.1C8.7 -12.1 10.3 -9.6 10.6 -4.0" stroke-width="2.1"/><path d="M15.2 -11.5L12.2 -4.3C10.8 -0.8 9.6 2.6 8.9 4.8" stroke-width="2.4"/></g>
<text x="1341.2" y="675" font-size="22.3" font-weight="bold" font-style="normal" text-anchor="start" fill="#141414">cat</text>
<text x="1371.4" y="661.1" font-size="28.2" font-weight="bold" font-style="normal" text-anchor="start" fill="#141414">:</text>
<rect x="1381.4" y="652.5" width="12.6" height="4.4" fill="#EE6129"/>
<text x="1404.6" y="656.9" font-size="28.2" font-weight="bold" font-style="normal" text-anchor="start" fill="#141414">,</text>
<rect x="1422.3" y="650.5" width="8.6" height="8.6" fill="#EE6129"/>
<g transform="translate(1325.1 698.9) scale(1)" fill="none" stroke="#141414" stroke-linecap="round"><path d="M0.5 -7.6C1.9 -10.7 3.7 -12.1 5.7 -12.1C8.7 -12.1 10.3 -9.6 10.6 -4.0" stroke-width="2.1"/><path d="M15.2 -11.5L12.2 -4.3C10.8 -0.8 9.6 2.6 8.9 4.8" stroke-width="2.4"/></g>
<text x="1341.2" y="712.7" font-size="22.3" font-weight="bold" font-style="normal" text-anchor="start" fill="#141414">cat</text>
<text x="1369.8" y="698.9" font-size="28.2" font-weight="bold" font-style="normal" text-anchor="start" fill="#141414">,</text>
<g transform="translate(1385.7 698.9) scale(1)" fill="none" stroke="#141414" stroke-linecap="round"><path d="M0.5 -7.6C1.9 -10.7 3.7 -12.1 5.7 -12.1C8.7 -12.1 10.3 -9.6 10.6 -4.0" stroke-width="2.1"/><path d="M15.2 -11.5L12.2 -4.3C10.8 -0.8 9.6 2.6 8.9 4.8" stroke-width="2.4"/></g>
<text x="1400.8" y="712.7" font-size="22.3" font-weight="bold" font-style="normal" text-anchor="start" fill="#141414">off</text>
<text x="1428.2" y="699.5" font-size="28.2" font-weight="bold" font-style="normal" text-anchor="start" fill="#141414">:</text>
<rect x="1439.2" y="690.3" width="12.6" height="4.4" fill="#066B63"/>
<text x="1462.2" y="695.7" font-size="28.2" font-weight="bold" font-style="normal" text-anchor="start" fill="#141414">,</text>
<path d="M1485 686.94L1490.39 693.8L1485 700.66L1479.61 693.8Z" fill="#066B63"/>
<text x="1.4" y="21" font-size="30" font-weight="bold" font-style="normal" text-anchor="start" fill="#141414">(a)</text>
<text x="750.3" y="22.7" font-size="30" font-weight="bold" font-style="normal" text-anchor="start" fill="#141414">(b)</text>
<text x="0" y="415.8" font-size="30" font-weight="bold" font-style="normal" text-anchor="start" fill="#141414">(c)</text>
<text x="757.8" y="415.8" font-size="30" font-weight="bold" font-style="normal" text-anchor="start" fill="#141414">(d)</text>
<text x="377.4" y="379" font-size="30.5" font-weight="bold" font-style="normal" text-anchor="start" fill="#141414">K</text>
<text x="401.1" y="394" font-size="24.3" font-weight="bold" font-style="normal" text-anchor="start" fill="#141414">M</text>
<text x="424.7" y="379.5" font-size="30.5" font-weight="bold" font-style="normal" text-anchor="start" fill="#141414">/[S]</text>
<text x="1142.9" y="387.7" font-size="30.5" font-weight="bold" font-style="normal" text-anchor="start" fill="#141414">K</text>
<text x="1166.6" y="402.7" font-size="24.3" font-weight="bold" font-style="normal" text-anchor="start" fill="#141414">M</text>
<text x="1190.2" y="388.2" font-size="30.5" font-weight="bold" font-style="normal" text-anchor="start" fill="#141414">/[S]</text>
<text x="376.7" y="790.1" font-size="30.5" font-weight="bold" font-style="normal" text-anchor="start" fill="#141414">K</text>
<text x="400.4" y="805.1" font-size="24.3" font-weight="bold" font-style="normal" text-anchor="start" fill="#141414">M</text>
<text x="424" y="790.6" font-size="30.5" font-weight="bold" font-style="normal" text-anchor="start" fill="#141414">/[S]</text>
<text x="1141.4" y="791.8" font-size="30.5" font-weight="bold" font-style="normal" text-anchor="start" fill="#141414">K</text>
<text x="1165.1" y="806.8" font-size="24.3" font-weight="bold" font-style="normal" text-anchor="start" fill="#141414">M</text>
<text x="1188.7" y="792.3" font-size="30.5" font-weight="bold" font-style="normal" text-anchor="start" fill="#141414">/[S]</text>
<text transform="translate(44.6 190.7) rotate(-90)" font-size="30.5" font-weight="bold" fill="#141414">T</text>
<text transform="translate(60.5 169.7) rotate(-90)" font-size="24.5" font-weight="bold" fill="#141414">turn</text>
<path d="M22.2 193.7L37.2 199.5L52.2 193.7" fill="none" stroke="#141414" stroke-width="2.3" stroke-linejoin="miter"/>
<path d="M22.2 121.1L37.2 115.4L52.2 121.1" fill="none" stroke="#141414" stroke-width="2.3" stroke-linejoin="miter"/>
<text transform="translate(796 203.3) rotate(-90)" font-size="30.5" font-weight="bold" fill="#141414">T</text>
<text transform="translate(779.2 185.5) rotate(-90) scale(1.1 1)" font-size="22.5" font-weight="bold" fill="#141414">2</text>
<text transform="translate(810.8 183) rotate(-90)" font-size="24.5" font-weight="bold" fill="#141414">turn</text>
<path d="M772.8 206.1L787.75 211.6L802.7 206.1" fill="none" stroke="#141414" stroke-width="2.3" stroke-linejoin="miter"/>
<path d="M772.8 134L787.75 128.4L802.7 134" fill="none" stroke="#141414" stroke-width="2.3" stroke-linejoin="miter"/>
<text transform="translate(32 604.2) rotate(-90)" font-size="30.5" font-weight="bold" fill="#141414">T</text>
<text transform="translate(16.1 585.4) rotate(-90) scale(1.1 1)" font-size="22.5" font-weight="bold" fill="#141414">3</text>
<text transform="translate(47.7 584.2) rotate(-90)" font-size="24.5" font-weight="bold" fill="#141414">turn</text>
<path d="M9.3 607.4L24.4 612.6L39.5 607.4" fill="none" stroke="#141414" stroke-width="2.3" stroke-linejoin="miter"/>
<path d="M9.3 534.9L24.4 529.3L39.5 534.9" fill="none" stroke="#141414" stroke-width="2.3" stroke-linejoin="miter"/>
<text transform="translate(822.5 608.3) rotate(-90)" font-size="30.5" font-weight="bold" fill="#141414">CV</text>
<text transform="translate(807.7 564.4) rotate(-90) scale(1.02 1)" font-size="23.5" font-weight="bold" fill="#141414">2</text>
</svg>
</body></html>
